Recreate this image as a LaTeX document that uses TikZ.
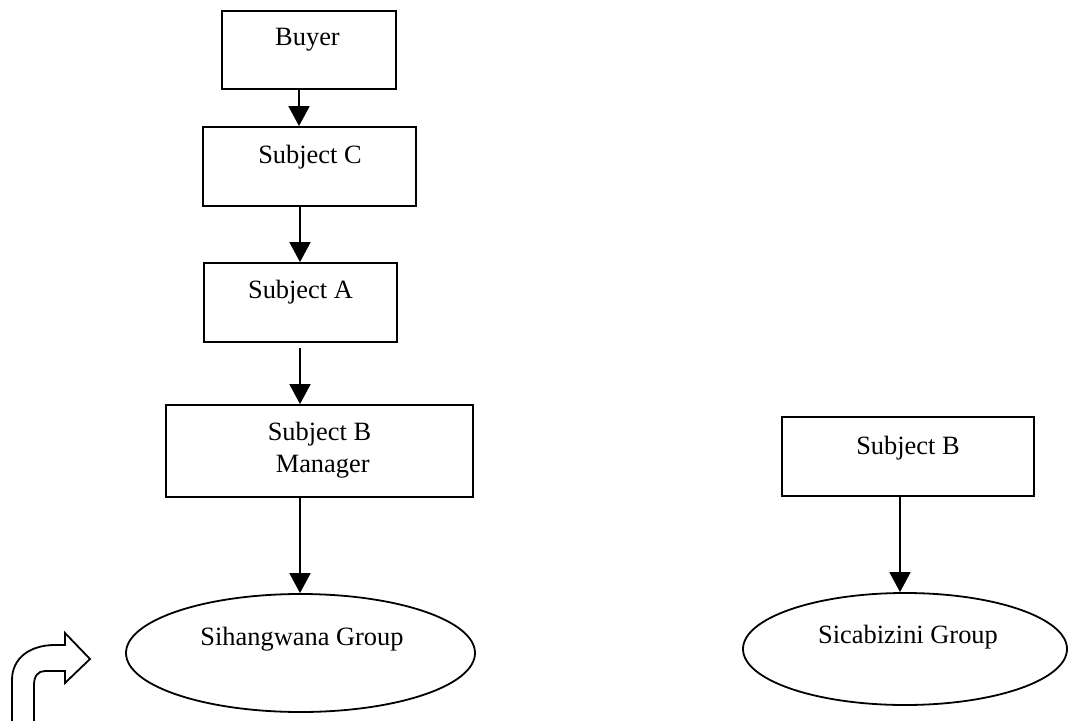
\documentclass[tikz,border=0pt]{standalone}
\usepackage{fontspec}
\setmainfont{Liberation Serif}
\usetikzlibrary{arrows.meta,shapes.geometric}
\begin{document}
\begin{tikzpicture}[x=0.5pt,y=-0.5pt,
  boxnode/.style={draw, line width=0.9pt, rectangle, inner sep=0pt},
  ovalnode/.style={draw, line width=0.9pt, ellipse, inner sep=0pt},
  txt/.style={inner sep=0pt, anchor=base, font=\fontsize{13.2}{15}\selectfont},
  arr/.style={line width=0.9pt, -{Triangle[width=10.5pt,length=10pt]}}]
\useasboundingbox (0,0) rectangle (1069,721);
% boxes
\node[boxnode, minimum width=87pt, minimum height=39pt] (buyer) at (309,50) {};
\node[boxnode, minimum width=106.5pt, minimum height=39.5pt] (subjc) at (309.5,166.5) {};
\node[boxnode, minimum width=96.5pt, minimum height=39.5pt] (subja) at (300.5,302.5) {};
\node[boxnode, minimum width=153.5pt, minimum height=46pt] (manager) at (319.5,451) {};
\node[boxnode, minimum width=126pt, minimum height=39.5pt] (subjb) at (908,456.5) {};
\node[ovalnode, minimum width=174.5pt, minimum height=59pt] (sihang) at (300.5,653) {};
\node[ovalnode, minimum width=162pt, minimum height=56pt] (sicab) at (905,649) {};
% texts
\node[txt] (buyerT) at (307.5,46) {Buyer};
\node[txt] (subjcT) at (310,164) {Subject C};
\node[txt] (subjaT) at (300.5,299) {Subject A};
\node[txt] (managerT1) at (319.5,440) {Subject B};
\node[txt] (managerT2) at (322.7,472) {Manager};
\node[txt] (subjbT) at (908,454) {Subject B};
\node[txt] (sihangT) at (302,645) {Sihangwana Group};
\node[txt] (sicabT) at (908,643) {Sicabizini Group};
% connector x-positions
\coordinate (xa) at (299,0);
\coordinate (xb) at (300,0);
\coordinate (xc) at (900,0);
\draw[arr] (buyer.south -| xa) -- (subjc.north -| xa);
\draw[arr] (subjc.south -| xb) -- (subja.north -| xb);
\draw[arr, shorten <=2.5pt] (subja.south -| xb) -- (manager.north -| xb);
\draw[arr] (manager.south -| xb) -- (sihang.north -| xb);
\draw[arr] (subjb.south -| xc) -- (sicab.north -| xc);
% bent arrow symbol
\draw[line width=0.9pt, line join=miter]
  (12,721) -- (12,680) .. controls (12,658) and (30,645) .. (55,645)
  -- (65,645) -- (65,633) -- (90,659) -- (65,683) -- (65,671) -- (45,671)
  .. controls (38,671) and (34,676) .. (34,685) -- (34,721);
\end{tikzpicture}
\end{document}
